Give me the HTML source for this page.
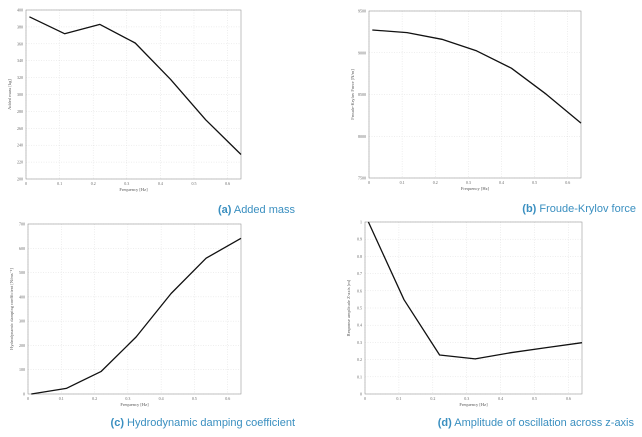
<!DOCTYPE html>
<html><head><meta charset="utf-8">
<style>
html,body{margin:0;padding:0;background:#fff;}
body{width:642px;height:437px;overflow:hidden;position:relative;font-family:"Liberation Sans",sans-serif;}
.cap{position:absolute;font-size:11px;color:#3a8fc0;white-space:nowrap;}
.cap b{font-weight:bold;}
svg{position:absolute;left:0;top:0;}
</style></head>
<body>
<svg id="fig" width="642" height="437"></svg>
<div class="cap" style="right:347px;top:204px;"><b>(a)</b> Added mass</div>
<div class="cap" style="right:6px;top:203px;"><b>(b)</b> Froude-Krylov force</div>
<div class="cap" style="right:347px;top:417px;"><b>(c)</b> Hydrodynamic damping coefficient</div>
<div class="cap" style="right:8px;top:417px;"><b>(d)</b> Amplitude of oscillation across z-axis</div>
<script>
const freq = [0.01, 0.115, 0.22, 0.325, 0.43, 0.535, 0.64];
const xTicks = [0, 0.1, 0.2, 0.3, 0.4, 0.5, 0.6];
const addedMass = [392, 372, 383, 361, 318, 270, 229];
const addedMassTicks = [200, 220, 240, 260, 280, 300, 320, 340, 360, 380, 400];
const froudeKrylov = [9273, 9241, 9161, 9022, 8815, 8504, 8157];
const froudeTicks = [7500, 8000, 8500, 9000, 9500];
const damping = [0, 23, 93, 235, 414, 559, 641];
const dampingTicks = [0, 100, 200, 300, 400, 500, 600, 700];
const amplitude = [1.0, 0.548, 0.227, 0.204, 0.24, 0.27, 0.298];
const amplitudeTicks = [0, 0.1, 0.2, 0.3, 0.4, 0.5, 0.6, 0.7, 0.8, 0.9, 1];

const NS = 'http://www.w3.org/2000/svg';
const svg = document.getElementById('fig');
function mk(tag, attrs, parent) {
  const e = document.createElementNS(NS, tag);
  for (const k in attrs) e.setAttribute(k, attrs[k]);
  (parent || svg).appendChild(e);
  return e;
}
function panel(id, box, ys, yTicks, ylabel) {
  const g = mk('g', {});
  
  
  const x0 = box.x0, x1 = box.x1, y0 = box.y0, y1 = box.y1;
  const ymin = yTicks[0], ymax = yTicks[yTicks.length - 1];
  const sx = v => x0 + (v - 0) / (0.64 - 0) * (x1 - x0);
  const sy = v => y1 - (v - ymin) / (ymax - ymin) * (y1 - y0);
  xTicks.forEach(t => {
    const l = mk('line', {x1: sx(t), x2: sx(t), y1: y0, y2: y1, stroke: '#ddd', 'stroke-width': 0.5, 'stroke-dasharray': '1,1.5'}, g);
    
    
    const tx = mk('text', {x: sx(t), y: y1 + 6, 'font-size': 4, fill: '#666', 'text-anchor': 'middle', 'font-family': 'Liberation Serif, serif'}, g);
    tx.textContent = String(t);
    
    
  });
  yTicks.forEach(t => {
    const l = mk('line', {x1: x0, x2: x1, y1: sy(t), y2: sy(t), stroke: '#ddd', 'stroke-width': 0.5, 'stroke-dasharray': '1,1.5'}, g);
    
    
    const tx = mk('text', {x: x0 - 3, y: sy(t) + 1.5, 'font-size': 4, fill: '#666', 'text-anchor': 'end', 'font-family': 'Liberation Serif, serif'}, g);
    tx.textContent = String(t);
    
    
  });
  const fr = mk('rect', {x: x0, y: y0, width: x1 - x0, height: y1 - y0, fill: 'none', stroke: '#999', 'stroke-width': 0.6}, g);
  
  
  const pts = freq.map((f, i) => sx(f).toFixed(1) + ',' + sy(ys[i]).toFixed(1)).join(' ');
  const pl = mk('polyline', {points: pts, fill: 'none', stroke: '#111', 'stroke-width': 1.3, 'stroke-linejoin': 'round'}, g);
  
  
  const xl = mk('text', {x: (x0 + x1) / 2, y: y1 + 12, 'font-size': 4.5, fill: '#555', 'text-anchor': 'middle', 'font-family': 'Liberation Serif, serif'}, g);
  xl.textContent = 'Frequency [Hz]';
  
  
  const yx = x0 - 15, yy = (y0 + y1) / 2;
  const yl = mk('text', {x: yx, y: yy, 'font-size': 4.5, fill: '#555', 'text-anchor': 'middle', transform: 'rotate(-90 ' + yx + ' ' + yy + ')', 'font-family': 'Liberation Serif, serif'}, g);
  yl.textContent = ylabel;
  
  
}
panel('a', {x0: 26, x1: 241, y0: 10, y1: 179}, addedMass, addedMassTicks, 'Added mass [kg]');
panel('b', {x0: 369, x1: 581, y0: 11, y1: 178}, froudeKrylov, froudeTicks, 'Froude-Krylov Force [N/m]');
panel('c', {x0: 28, x1: 241, y0: 224, y1: 394}, damping, dampingTicks, 'Hydrodynamic damping coefficient [N/ms⁻¹]');
panel('d', {x0: 365, x1: 582, y0: 222, y1: 394}, amplitude, amplitudeTicks, 'Response amplitude Z-axis [m]');
</script>
</body></html>
